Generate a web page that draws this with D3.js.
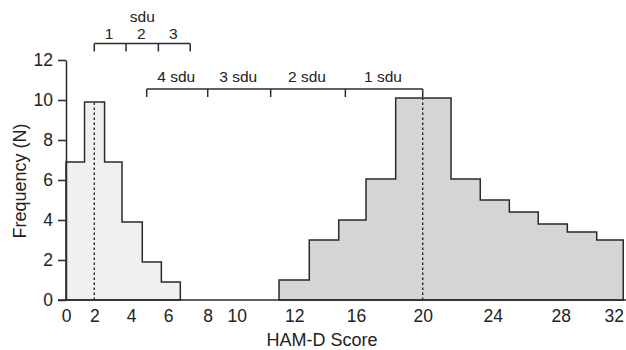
<!DOCTYPE html>
<html><head><meta charset="utf-8">
<script src="https://cdn.jsdelivr.net/npm/d3@7"></script>
<style>
body{margin:0;background:#fff}
svg text{font-family:"Liberation Sans",Arial,Helvetica,sans-serif;fill:#222}
</style>
</head><body><svg id="chart" width="626" height="350"></svg>
<script>
// ---- data ----
const xTicks = [0, 2, 4, 6, 8, 10, 12, 16, 20, 24, 28, 32];
const yTicks = [0, 2, 4, 6, 8, 10, 12];
const remittedEdges = [0, 1.31, 2.56, 3.51, 4.61, 5.64, 6.62];
const remittedFreq = [6.9, 9.9, 6.9, 3.9, 1.9, 0.9];
const baselineEdges = [11.47, 12.97, 14.88, 16.6, 18.38, 20, 21.62, 23.29, 24.98, 26.68, 28.5, 30.72, 32.72];
const baselineFreq = [1, 3, 4, 6.05, 10.1, 10.1, 6.05, 5, 4.4, 3.8, 3.4, 3];
const remittedMean = 2;
const baselineMean = 20;
const sduSmallTicks = [2, 3.73, 5.48, 7.12];
const sduSmallLabels = ["1", "2", "3"];
const sduLargeTicks = [4.85, 8, 11.18, 15.31, 20];
const sduLargeLabels = ["4 sdu", "3 sdu", "2 sdu", "1 sdu"];

// ---- layout ----
const xTickPx = [66, 94.3, 131, 168, 207.7, 236.7, 294.3, 356, 422.7, 492.7, 560.7, 613.7];
const svg = d3.select("#chart");
const x = d3.scaleLinear().domain(xTicks).range(xTickPx);
const y = d3.scaleLinear().domain([0, 12]).range([300, 60]);
const ink = "#2a2a2a";

function hist(edges, freq, fill) {
  const pts = edges.map((e, i) => [e, freq[Math.min(i, freq.length - 1)]]);
  const area = d3.area().curve(d3.curveStepAfter)
    .x(d => x(d[0])).y0(y(0)).y1(d => y(d[1]));
  svg.append("path").attr("d", area(pts))
    .attr("fill", fill).attr("stroke", ink).attr("stroke-width", 1.5)
    .attr("stroke-linejoin", "miter");
}
hist(remittedEdges, remittedFreq, "#f0f0f0");
hist(baselineEdges, baselineFreq, "#d4d5d7");

// dashed mean lines
const remTop = remittedFreq[d3.bisectRight(remittedEdges, remittedMean) - 1];
const baseTop = baselineFreq[d3.bisectRight(baselineEdges, baselineMean) - 1];
svg.append("line").attr("x1", x(remittedMean)).attr("x2", x(remittedMean))
  .attr("y1", y(0)).attr("y2", y(remTop))
  .attr("stroke", ink).attr("stroke-width", 1.4).attr("stroke-dasharray", "2.5,2.5");
svg.append("line").attr("x1", x(baselineMean)).attr("x2", x(baselineMean))
  .attr("y1", y(0)).attr("y2", y(baseTop))
  .attr("stroke", ink).attr("stroke-width", 1.4).attr("stroke-dasharray", "2.5,2.5");

// axes
const gx = svg.append("g").attr("transform", `translate(0,${y(0)})`)
  .call(d3.axisBottom(x).tickValues(xTicks).tickSize(0).tickPadding(10));
gx.select(".domain").remove();
gx.selectAll("text").attr("font-size", 17.5).style("font-family", null).attr("fill", "#222");
svg.append("line").attr("x1", 58).attr("x2", 626).attr("y1", y(0)).attr("y2", y(0))
  .attr("stroke", ink).attr("stroke-width", 1.5);

const gy = svg.append("g").attr("transform", `translate(${x(0)},0)`)
  .call(d3.axisLeft(y).tickValues(yTicks).tickSize(8).tickSizeOuter(0).tickPadding(5));
gy.selectAll("path,line").attr("stroke", ink).attr("stroke-width", 1.5);
gy.selectAll("text").attr("font-size", 17.5).style("font-family", null).attr("fill", "#222");

// titles
svg.append("text").attr("x", 322).attr("y", 346).attr("text-anchor", "middle")
  .attr("font-size", 18).text("HAM-D Score");
svg.append("text").attr("transform", "translate(26,181) rotate(-90)")
  .attr("text-anchor", "middle").attr("font-size", 18).text("Frequency (N)");

// brackets
function bracket(ticks, labels, lineY, tickLen, labelY, fs, shift) {
  const g = svg.append("g");
  g.append("line").attr("x1", x(ticks[0])).attr("x2", x(ticks[ticks.length - 1]))
    .attr("y1", lineY).attr("y2", lineY).attr("stroke", ink).attr("stroke-width", 1.5);
  g.selectAll("line.t").data(ticks).join("line").attr("class", "t")
    .attr("x1", d => x(d)).attr("x2", d => x(d))
    .attr("y1", lineY).attr("y2", lineY + tickLen)
    .attr("stroke", ink).attr("stroke-width", 1.5);
  g.selectAll("text").data(labels).join("text")
    .attr("x", (d, i) => (x(ticks[i]) + x(ticks[i + 1])) / 2 + shift)
    .attr("y", labelY).attr("text-anchor", "middle").attr("font-size", fs).text(d => d);
  return g;
}
bracket(sduSmallTicks, sduSmallLabels, 43.5, 8, 39, 15.5, -1);
svg.append("text")
  .attr("x", (x(sduSmallTicks[0]) + x(sduSmallTicks[3])) / 2)
  .attr("y", 21.5).attr("text-anchor", "middle").attr("font-size", 15.5).text("sdu");
bracket(sduLargeTicks, sduLargeLabels, 89, 8, 81.5, 15.5, -1);
</script>
</body></html>
